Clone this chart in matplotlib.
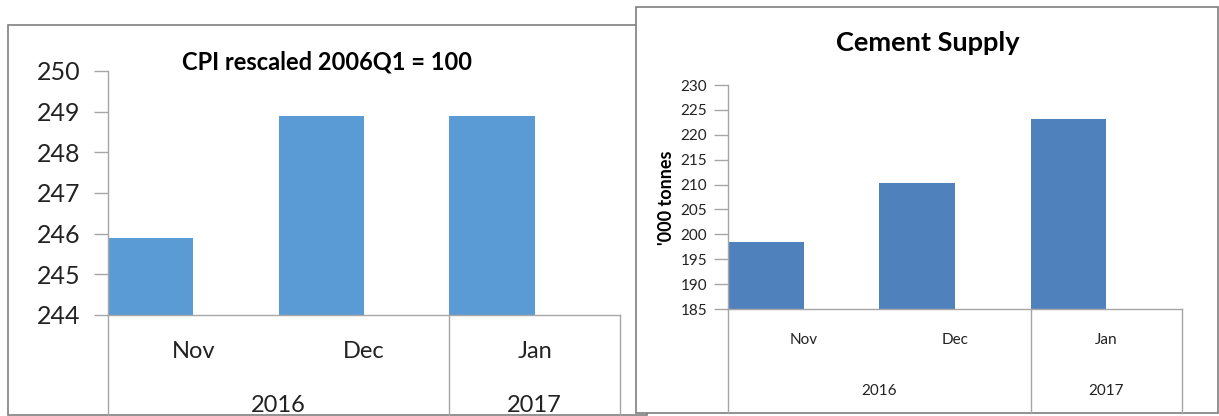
import matplotlib
matplotlib.use("Agg")
import matplotlib.pyplot as plt
from matplotlib.patches import Rectangle
from matplotlib.lines import Line2D

# ---- data ----
months = ["Nov", "Dec", "Jan"]
years = ["2016", "2017"]
year_spans = [(0, 2), (2, 3)]          # category index ranges for each year
cpi_values = [245.9, 248.9, 248.9]
cpi_ticks = [244, 245, 246, 247, 248, 249, 250]
cement_values = [198.4, 210.4, 223.2]
cement_ticks = [185, 190, 195, 200, 205, 210, 215, 220, 225, 230]

W, H = 1219, 416
fig = plt.figure(figsize=(W / 100, H / 100), dpi=100)
plt.rcParams['font.family'] = ['Lato', 'DejaVu Sans']

GRAY = "#A6A6A6"
DARK = "#222222"

def px_axes(x0, y0, x1, y1):
    return fig.add_axes([x0 / W, (H - y1) / H, (x1 - x0) / W, (y1 - y0) / H])

# frames (figure pixel coordinates, y measured from top)
def frame(x0, y0, x1, y1, z):
    r = Rectangle((x0 / W, (H - y1) / H), (x1 - x0) / W, (y1 - y0) / H,
                  transform=fig.transFigure, facecolor="white",
                  edgecolor="#7F7F7F", linewidth=1.2, zorder=z)
    fig.patches.append(r)

frame(8, 25, 647, 415, -3)
frame(636, 7, 1218, 413, -2)

def draw_chart(ax, values, ticks, color, tick_fs, lab_fs, month_y, year_y,
               box_bottom, tick_len, tick_pad):
    n = len(values)
    ax.set_facecolor("none")
    ax.bar(range(n), [v - ticks[0] for v in values], bottom=ticks[0], width=0.5,
           align="edge", color=color, zorder=2)
    ax.set_xlim(0, n)
    ax.set_ylim(ticks[0], ticks[-1])
    ax.set_yticks(ticks)
    ax.set_yticklabels([str(t) for t in ticks], fontsize=tick_fs, color=DARK)
    ax.tick_params(axis="y", length=tick_len, width=1, color=GRAY, pad=tick_pad)
    ax.set_xticks([])
    for s in ["top", "right"]:
        ax.spines[s].set_visible(False)
    for s in ["left", "bottom"]:
        ax.spines[s].set_color(GRAY)
        ax.spines[s].set_linewidth(1)
    tr = ax.get_xaxis_transform()
    # category box
    for x in [0, year_spans[0][1], n]:
        ax.add_line(Line2D([x, x], [0, box_bottom], transform=tr, color=GRAY,
                           linewidth=1, clip_on=False))
    for i, m in enumerate(months):
        ax.text(i + 0.5, month_y, m, transform=tr, ha="center", va="center",
                fontsize=lab_fs, color=DARK, clip_on=False)
    for (a, b), yl in zip(year_spans, years):
        ax.text((a + b) / 2, year_y, yl, transform=tr, ha="center", va="center",
                fontsize=lab_fs, color=DARK, clip_on=False)

# ---- left chart: CPI ----
ax1 = px_axes(108, 71, 620, 315)
draw_chart(ax1, cpi_values, cpi_ticks, "#5B9BD5", 18, 17,
           -(352 - 315) / 244, -(406 - 315) / 244, -0.6, 10, 10)
fig.text(327 / W, 1 - 62 / H, "CPI rescaled 2006Q1 = 100", ha="center", va="center",
         fontsize=17, fontweight="bold", color="black")

# ---- right chart: Cement Supply ----
ax2 = px_axes(728, 85, 1182, 309)
draw_chart(ax2, cement_values, cement_ticks, "#4F81BD", 11, 11,
           -(340 - 309) / 224, -(391 - 309) / 224, -(413 - 309) / 224, 10, 5)
fig.text(928 / W, 1 - 43 / H, "Cement Supply", ha="center", va="center",
         fontsize=19.5, fontweight="bold", color="black")
fig.text(666 / W, 1 - 198 / H, "'000 tonnes", ha="center", va="center",
         rotation=90, fontsize=13, fontweight="bold", color="black")

fig.savefig("out.png", dpi=100)
